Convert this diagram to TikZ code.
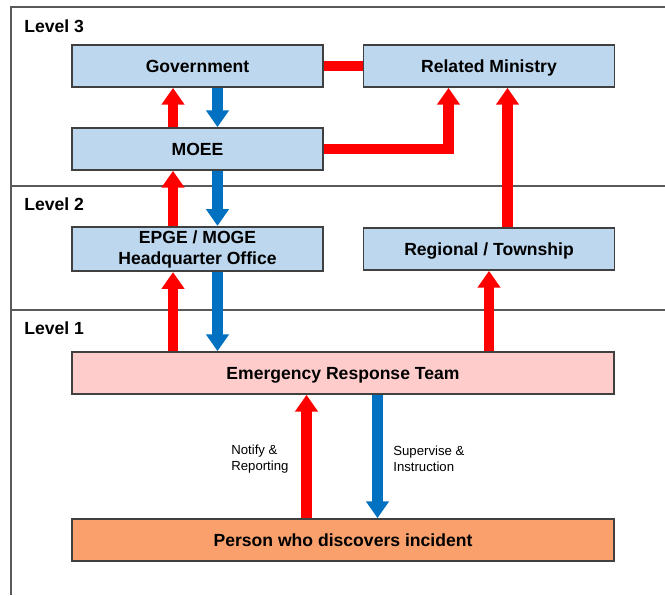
\documentclass[tikz,border=0pt]{standalone}
\usepackage{fontspec}
\setmainfont{Liberation Sans}
\usepackage{xcolor}
\definecolor{BoxBlue}{HTML}{BDD7EE}
\definecolor{BoxPink}{HTML}{FFCCCC}
\definecolor{BoxOrange}{HTML}{F9A06C}
\definecolor{BoxEdge}{HTML}{404040}
\definecolor{ArrRed}{HTML}{FF0000}
\definecolor{ArrBlue}{HTML}{0070C0}
\definecolor{FrameGray}{HTML}{5A5A5A}
\usetikzlibrary{arrows.meta, positioning, calc}
\tikzset{
  box/.style={
    rectangle, draw=BoxEdge, line width=1pt,
    minimum width=#1, minimum height=0.84cm,
    align=center, inner sep=2pt,
    text height=9pt, text depth=1.6pt,
    font=\fontsize{10}{12}\selectfont\bfseries
  },
  box/.default=5.02cm,
  upArr/.style={-{Triangle[length=9.5pt, width=12.5pt]}, line width=6.2pt, color=ArrRed, line join=miter},
  dnArr/.style={-{Triangle[length=9.5pt, width=12.5pt]}, line width=6.2pt, color=ArrBlue},
  levelLbl/.style={anchor=west, inner sep=0pt, font=\fontsize{10}{12}\selectfont\bfseries},
  note/.style={anchor=west, align=left, inner sep=0pt, font=\fontsize{7.5}{9}\selectfont},
  frame/.style={draw=FrameGray, line width=1.2pt},
}

\begin{document}
\begin{tikzpicture}[x=0.02cm, y=-0.02cm]

\useasboundingbox (0,0) rectangle (665,595);

% frame and level separators
\draw[frame] (665,7) -- (11,7) -- (11,595);
\draw[frame] (11,186) -- (665,186);
\draw[frame] (11,310) -- (665,310);

\node[levelLbl] at (24,26) (lv3) {Level 3};
\node[levelLbl] at (24,204) (lv2) {Level 2};
\node[levelLbl] at (24,328) (lv1) {Level 1};

% boxes
\node[box, fill=BoxBlue] at (197.5,66) (gov) {Government};
\node[box, fill=BoxBlue] at (489,66) (rel) {Related Ministry};
\node[box, fill=BoxBlue] at (197.5,149) (moee) {MOEE};
\node[box, fill=BoxBlue, text height=, text depth=] at (197.5,249) (hq) {EPGE / MOGE\\Headquarter Office};
\node[box, fill=BoxBlue] at (489,249) (reg) {Regional / Township};
\node[box=10.84cm, fill=BoxPink] at (343,373) (ert) {Emergency Response Team};
\node[box=10.84cm, fill=BoxOrange] at (343,540) (person) {Person who discovers incident};

% arrow columns
\coordinate (cUp) at (173,0);
\coordinate (cDn) at (217.5,0);
\coordinate (cReg) at (489,0);
\coordinate (cRel) at (507.5,0);
\coordinate (cElb) at (448.5,0);
\coordinate (cNot) at (306.5,0);
\coordinate (cSup) at (377.5,0);

% reporting up, instructions down
\draw[upArr] (moee.north -| cUp) -- (gov.south -| cUp);
\draw[dnArr] (gov.south -| cDn) -- (moee.north -| cDn);
\draw[upArr] (hq.north -| cUp) -- (moee.south -| cUp);
\draw[dnArr] (moee.south -| cDn) -- (hq.north -| cDn);
\draw[upArr] (ert.north -| cUp) -- (hq.south -| cUp);
\draw[dnArr] (hq.south -| cDn) -- (ert.north -| cDn);
\draw[upArr] (ert.north -| cReg) -- (reg.south -| cReg);
\draw[upArr] (reg.north -| cRel) -- (rel.south -| cRel);
\draw[upArr] (moee.east) -| (rel.south -| cElb);
\draw[upArr, -] (gov.east) -- (rel.west);

\draw[upArr] (person.north -| cNot) -- (ert.south -| cNot);
\draw[dnArr] (ert.south -| cSup) -- (person.north -| cSup);

\node[note] at (231,459) (notify) {Notify \&\\Reporting};
\node[note] at (393,459) (superv) {Supervise \&\\Instruction};

\end{tikzpicture}
\end{document}
